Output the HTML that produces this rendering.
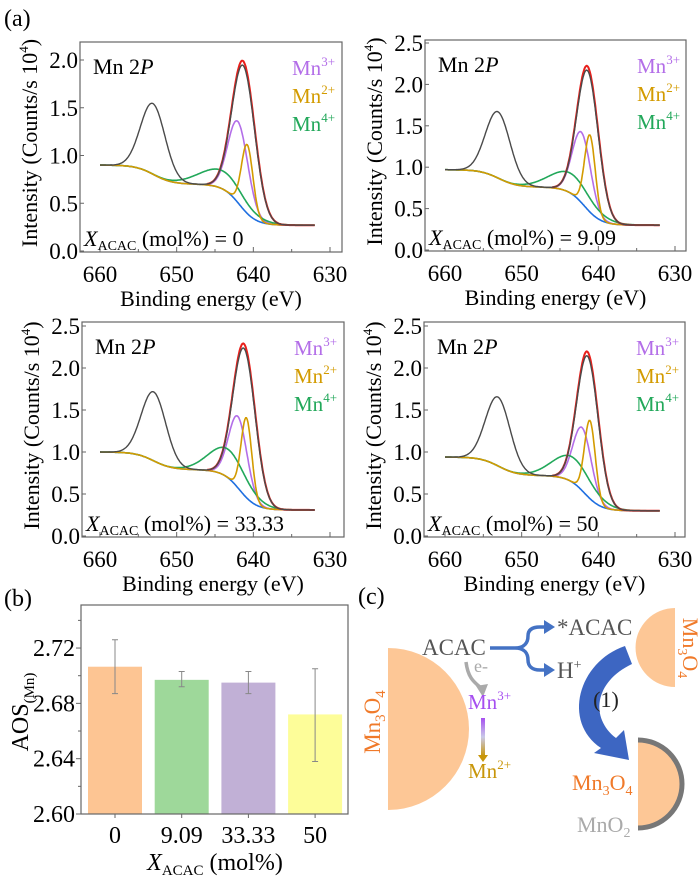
<!DOCTYPE html>
<html><head><meta charset="utf-8"><style>
html,body{margin:0;padding:0;background:#fff;}
svg, svg text, svg tspan{font-family:"Liberation Serif","Noto Serif CJK SC","DejaVu Serif",serif;}
</style></head><body>
<svg id="fig" width="700" height="882" viewBox="0 0 700 882" xmlns="http://www.w3.org/2000/svg">
<defs>
<linearGradient id="mnGrad" x1="0" y1="0" x2="0" y2="1">
<stop offset="0" stop-color="#a64ff0"/><stop offset="0.5" stop-color="#c9c9e8"/><stop offset="1" stop-color="#c8960a"/>
</linearGradient>
</defs>
<text x="4" y="26" font-size="24">(a)</text>
<text x="4" y="606" font-size="24">(b)</text>
<text x="358" y="604" font-size="24">(c)</text>
<g id="xps"></g>
<g id="bars"></g>
<g id="scheme">
  <path d="M388,648 A81,81 0 0 1 388,810 Z" fill="#fdc796"/>
  <text transform="translate(380,722) rotate(-90)" text-anchor="middle" font-size="23" fill="#f07a2a">Mn<tspan font-size="15" dy="5">3</tspan><tspan dy="-5">O</tspan><tspan font-size="15" dy="5">4</tspan></text>
  <text x="422" y="655" font-size="23" fill="#555">ACAC</text>
  <path d="M466,662 C468,678 474,682 481,688" fill="none" stroke="#aaa" stroke-width="3.5"/>
  <polygon points="476,686 488,684 483,697" fill="#aaa"/>
  <text x="474" y="672" font-size="18" fill="#aaa">e-</text>
  <text x="468" y="709" font-size="21" fill="#a64ff0">Mn<tspan font-size="13" dy="-9">3+</tspan></text>
  <rect x="481" y="718" width="4" height="38" fill="url(#mnGrad)"/>
  <polygon points="478,755 488,755 483,762" fill="#c8960a"/>
  <text x="468" y="778" font-size="21" fill="#c8960a">Mn<tspan font-size="13" dy="-9">2+</tspan></text>
  <path d="M490,648 L515,648 C525,648 528,642 528,636 C528,630 532,627 540,627 L546,627 M515,648 C525,648 528,654 528,660 C528,666 532,670 540,670 L546,670" fill="none" stroke="#4472c4" stroke-width="3.5"/>
  <polygon points="544,620 555,627 544,634" fill="#4472c4"/>
  <polygon points="544,663 555,670 544,677" fill="#4472c4"/>
  <text x="557" y="635" font-size="23" fill="#555">*ACAC</text>
  <text x="557" y="678" font-size="23" fill="#555">H<tspan font-size="14" dy="-9">+</tspan></text>
  <path d="M675,608 A39,39 0 0 0 675,687 Z" fill="#fdc796"/>
  <text transform="translate(683,648) rotate(90)" text-anchor="middle" font-size="22" fill="#f07a2a">Mn<tspan font-size="14" dy="5">3</tspan><tspan dy="-5">O</tspan><tspan font-size="14" dy="5">4</tspan></text>
  <path d="M625,646 C578,662 562,722 601,748 L594,753 L629,760 L624,730 L616,738 C590,718 594,682 632,664 Z" fill="#3d66c2"/>
  <text x="606" y="707" text-anchor="middle" font-size="22" fill="#222">(1)</text>
  <path d="M638,741 A43,43 0 0 1 638,827 Z" fill="#fdc796"/>
  <path d="M638,740 A44,44 0 0 1 638,828" fill="none" stroke="#777" stroke-width="5"/>
  <text x="572" y="790" font-size="22" fill="#f07a2a">Mn<tspan font-size="14" dy="5">3</tspan><tspan dy="-5">O</tspan><tspan font-size="14" dy="5">4</tspan></text>
  <text x="577" y="832" font-size="22" fill="#aaa">MnO<tspan font-size="14" dy="5">2</tspan></text>
</g>
</svg>
<script>
// ---- XPS panel data (fit parameters) ----
const panelLabels = ["0", "9.09", "33.33", "50"];
const bgHigh = [0.90, 0.97, 1.00, 0.94];
const bgMid = [0.70, 0.76, 0.79, 0.72];
const bgLow = [0.27, 0.30, 0.31, 0.30];
const mn2Center = [640.8, 641.1, 640.9, 641.1];
const mn2Amp = [0.72, 0.93, 0.95, 0.93];
const mn2Sigma = [0.75, 0.7, 0.7, 0.7];
const mn3Center = [642.0, 642.2, 642.0, 642.1];
const mn3Amp = [0.85, 0.85, 0.85, 0.75];
const mn3Sigma = [1.3, 1.2, 1.2, 1.2];
const mn4Center = [644.0, 643.5, 643.2, 643.3];
const mn4Amp = [0.19, 0.24, 0.34, 0.30];
const mn4Sigma = [3.0, 2.8, 2.5, 2.6];
const totalCenter = [641.3, 641.4, 641.2, 641.4];
const totalAmp = [1.55, 1.73, 1.80, 1.72];
const totalSigma = [1.5, 1.4, 1.45, 1.4];
const p12Center = [653.1, 653.1, 653.0, 653.1];
const p12Amp = [0.74, 0.80, 0.82, 0.82];
const xTicks = [660, 650, 640, 630];
const yTicksA = [0.0, 0.5, 1.0, 1.5, 2.0];
const yTicksB = [0.0, 0.5, 1.0, 1.5, 2.0, 2.5];

// ---- Bar chart data ----
const barCats = ["0", "9.09", "33.33", "50"];
const barVals = [2.7065, 2.697, 2.695, 2.672];
const barErrHi = [2.726, 2.703, 2.703, 2.705];
const barErrLo = [2.687, 2.692, 2.687, 2.638];
const barTicks = ["2.60", "2.64", "2.68", "2.72"];

const FONT = '"Liberation Serif","Noto Serif CJK SC","DejaVu Serif",serif';
const NS = "http://www.w3.org/2000/svg";
function mk(tag, attrs, parent) {
  const e = document.createElementNS(NS, tag);
  for (const k in attrs) e.setAttribute(k, attrs[k]);
  if (tag === 'text') e.style.fontFamily = FONT;
  parent.appendChild(e);
  return e;
}
document.querySelectorAll('text').forEach(t => { t.style.fontFamily = FONT; });
const S = z => 1 / (1 + Math.exp(-z));
const G = (E, c, a, s) => a * Math.exp(-((E - c) * (E - c)) / (2 * s * s));

const layouts = [
  {L:80, R:342, T:42, B:252, x660:100, x630:330, y0:251, k:95.5, ticks:yTicksA},
  {L:425, R:686, T:40, B:251, x660:445, x630:675, y0:250, k:82.8, ticks:yTicksB},
  {L:82, R:344, T:322, B:537, x660:100, x630:330, y0:536, k:84, ticks:yTicksB},
  {L:424, R:685, T:322, B:537, x660:445, x630:675, y0:536, k:84, ticks:yTicksB}
];
const xps = document.getElementById('xps');
layouts.forEach((Lo, i) => {
  const g = mk('g', {}, xps);
  
  
  const xs = E => Lo.x660 + (660 - E) * (Lo.x630 - Lo.x660) / 30;
  const ys = v => Lo.y0 - v * Lo.k;
  const bg = E => bgLow[i] + (bgMid[i] - bgLow[i]) * S((E - 641.8) / 1.1) + (bgHigh[i] - bgMid[i]) * S((E - 653) / 1.2);
  const fns = {
    blue: E => bg(E),
    purple: E => bg(E) + G(E, mn3Center[i], mn3Amp[i], mn3Sigma[i]),
    green: E => bg(E) + G(E, mn4Center[i], mn4Amp[i], mn4Sigma[i]),
    orange: E => bg(E) + G(E, mn2Center[i], mn2Amp[i], mn2Sigma[i]),
    red: E => bg(E) + G(E, totalCenter[i], totalAmp[i], totalSigma[i]),
    black: E => bg(E) + G(E, p12Center[i], p12Amp[i], 1.6) + 0.97 * G(E, totalCenter[i], totalAmp[i], totalSigma[i])
  };
  const specs = [
    ['blue', '#1f6fe0', 660, 632, 'baseline-curve', 1.6],
    ['purple', '#b36ee8', 646, 632, 'mn3-fit-curve', 1.6],
    ['green', '#22a85a', 660, 632, 'mn4-fit-curve', 1.6],
    ['orange', '#d39b00', 660, 632, 'mn2-fit-curve', 1.6],
    ['red', '#e8201c', 646, 632, 'total-fit-curve', 2],
    ['black', '#4a4a4a', 660, 632, 'measured-data-curve', 1.4]
  ];
  specs.forEach(s => {
    let d = '';
    for (let E = s[2]; E >= s[3] - 1e-9; E -= 0.1) {
      d += (d ? 'L' : 'M') + xs(E).toFixed(1) + ',' + ys(fns[s[0]](E)).toFixed(1);
    }
    const p = mk('path', {d: d, fill: 'none', stroke: s[1], 'stroke-width': s[5]}, g);
    
    
  });
  const fr = mk('rect', {x: Lo.L, y: Lo.T, width: Lo.R - Lo.L, height: Lo.B - Lo.T, fill: 'none', stroke: '#666', 'stroke-width': 1.2}, g);
  
  
  for (let E = 660; E >= 630; E -= 5) {
    const major = E % 10 === 0;
    const t = mk('line', {x1: xs(E), x2: xs(E), y1: Lo.B, y2: Lo.B - (major ? 5 : 3), stroke: '#666'}, g);
    
    
  }
  xTicks.forEach(E => {
    const t = mk('text', {x: xs(E), y: Lo.B + 30, 'text-anchor': 'middle', 'font-size': 23}, g);
    t.textContent = E;
    
    
  });
  Lo.ticks.forEach(v => {
    const t = mk('text', {x: Lo.L - 2, y: ys(v) + 8, 'text-anchor': 'end', 'font-size': 23}, g);
    t.textContent = v.toFixed(1);
    
    
    const tk = mk('line', {x1: Lo.L, x2: Lo.L + 4, y1: ys(v), y2: ys(v), stroke: '#666'}, g);
    
    
  });
  const xt = mk('text', {x: (Lo.L + Lo.R) / 2, y: Lo.B + 54, 'text-anchor': 'middle', 'font-size': 22}, g);
  xt.textContent = 'Binding energy (eV)';
  
  
  const yt = mk('text', {transform: 'translate(' + (Lo.L - 43) + ',' + ((Lo.T + Lo.B) / 2 - 4) + ') rotate(-90)', 'text-anchor': 'middle', 'font-size': 22}, g);
  yt.innerHTML = 'Intensity (Counts/s 10<tspan font-size="13" dy="-9">4</tspan><tspan dy="9">)</tspan>';
  
  
  const mn = mk('text', {x: Lo.L + 13, y: Lo.T + 32, 'font-size': 22}, g);
  mn.innerHTML = 'Mn 2<tspan font-style="italic">P</tspan>';
  
  
  const leg = [['Mn', '3+', '#b36ee8', 'legend-mn3'], ['Mn', '2+', '#d39b00', 'legend-mn2'], ['Mn', '4+', '#22a85a', 'legend-mn4']];
  leg.forEach((l, j) => {
    const t = mk('text', {x: Lo.L + 212, y: Lo.T + 33 + j * 28, 'font-size': 21, fill: l[2]}, g);
    t.innerHTML = l[0] + '<tspan font-size="13" dy="-9">' + l[1] + '</tspan>';
    
    
  });
  const xl = mk('text', {x: Lo.L + 4, y: Lo.B - 6, 'font-size': 22}, g);
  xl.innerHTML = '<tspan font-style="italic">X</tspan><tspan font-size="14" dy="4">ACAC</tspan><tspan dy="-4"> (mol%) = ' + panelLabels[i] + '</tspan>';
  
  
});

// ---- Bar chart ----
const bars = document.getElementById('bars');
const BL = 81, BR = 348, BT = 605, BB = 814;
const by = v => BB - (v - 2.60) * 1383;
const bx = i => 115 + i * 66.7;
const barColors = ['#fdc593', '#9ed89a', '#c1b0d6', '#fdfd99'];
barVals.forEach((v, i) => {
  const r = mk('rect', {x: bx(i) - 27, y: by(v), width: 54, height: BB - by(v), fill: barColors[i]}, bars);
  
  
  const e = mk('path', {d: 'M' + bx(i) + ',' + by(barErrHi[i]) + 'V' + by(barErrLo[i]) + 'M' + (bx(i) - 3) + ',' + by(barErrHi[i]) + 'h6M' + (bx(i) - 3) + ',' + by(barErrLo[i]) + 'h6', stroke: '#888', 'stroke-width': 1, fill: 'none'}, bars);
  
  
  const t = mk('text', {x: bx(i), y: 843, 'text-anchor': 'middle', 'font-size': 24}, bars);
  t.textContent = barCats[i];
  
  
  const tk = mk('line', {x1: bx(i), x2: bx(i), y1: BB, y2: BB + 4, stroke: '#666'}, bars);
  
  
});
const bf = mk('rect', {x: BL, y: BT, width: BR - BL, height: BB - BT, fill: 'none', stroke: '#666', 'stroke-width': 1.2}, bars);


for (let v = 2.60; v < 2.755; v += 0.02) {
  const major = Math.round(v * 100) % 4 === 0;
  const tk = mk('line', {x1: BL - (major ? 5 : 3), x2: BL, y1: by(v), y2: by(v), stroke: '#666'}, bars);
  
  
}
barTicks.forEach(s => {
  const t = mk('text', {x: BL - 6, y: by(parseFloat(s)) + 8, 'text-anchor': 'end', 'font-size': 24}, bars);
  t.textContent = s;
  
  
});
const bxt = mk('text', {x: 215, y: 870, 'text-anchor': 'middle', 'font-size': 24}, bars);
bxt.innerHTML = '<tspan font-style="italic">X</tspan><tspan font-size="15" dy="5">ACAC</tspan><tspan dy="-5"> (mol%)</tspan>';


const byt = mk('text', {transform: 'translate(28,712) rotate(-90)', 'text-anchor': 'middle', 'font-size': 24}, bars);
byt.innerHTML = 'AOS<tspan font-size="15" dy="6">(Mn)</tspan>';


</script>
</body></html>
